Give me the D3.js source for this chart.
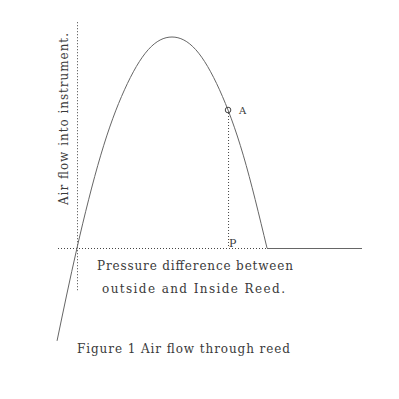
<!DOCTYPE html>
<html>
<head>
<meta charset="utf-8">
<script src="https://cdn.jsdelivr.net/npm/d3@7"></script>
<style>
  body { margin: 0; background: #fff; }
  text { font-family: "DejaVu Serif", serif; fill: #3a3a3a; }
</style>
</head>
<body>
<div id="chart"></div>
<script>
// Flow curve (pressure difference, air flow)
var pressure = [-0.21, 0, 0.25, 0.5, 0.75, 1.0, 1.25, 1.5, 1.75, 2.0];
var airFlow  = [-0.44, 0, 0.44, 0.75, 0.94, 1.0, 0.94, 0.75, 0.44, 0];

// Reed closed: flow stays at zero
var closedPressure = [2.0, 3.0];
var closedFlow     = [0, 0];

// Operating point A and its pressure P
var pointA = {p: 1.59, flow: 0.654};

// Extent of the dotted axes
var xAxisExtent = [-0.2, 2.0];
var yAxisExtent = [-0.2, 1.07];

var svgWidth = 399, svgHeight = 399;

var svg = d3.select("#chart")
  .append("svg")
  .attr("width", svgWidth)
  .attr("height", svgHeight);

var x = d3.scaleLinear().domain([0, 2]).range([77, 267]);
var y = d3.scaleLinear().domain([0, 1]).range([248, 37]);

// dotted axes
svg.append("line")
  .attr("x1", x(xAxisExtent[0])).attr("x2", x(xAxisExtent[1]))
  .attr("y1", y(0) + 0.5).attr("y2", y(0) + 0.5)
  .attr("stroke", "#444").attr("stroke-dasharray", "1,2");

svg.append("line")
  .attr("x1", x(0) + 0.5).attr("x2", x(0) + 0.5)
  .attr("y1", y(yAxisExtent[1])).attr("y2", y(yAxisExtent[0]))
  .attr("stroke", "#444").attr("stroke-dasharray", "1,2");

// flow curve
var curveData = pressure.map((p, i) => ({p: p, flow: airFlow[i]}));
var line = d3.line()
  .x(d => x(d.p))
  .y(d => y(d.flow))
  .curve(d3.curveNatural);

svg.append("path")
  .datum(curveData)
  .attr("d", line)
  .attr("fill", "none")
  .attr("stroke", "#666")
  .attr("stroke-width", 1);

var closedData = closedPressure.map((p, i) => ({p: p, flow: closedFlow[i]}));
svg.append("path")
  .datum(closedData)
  .attr("d", d3.line().x(d => x(d.p)).y(d => y(d.flow) + 0.5))
  .attr("fill", "none")
  .attr("stroke", "#666")
  .attr("stroke-width", 1);

// dotted drop from A to P
svg.append("line")
  .attr("x1", x(pointA.p) + 0.5).attr("x2", x(pointA.p) + 0.5)
  .attr("y1", y(pointA.flow) + 3).attr("y2", y(0))
  .attr("stroke", "#444").attr("stroke-dasharray", "1,2");

svg.append("circle")
  .attr("cx", x(pointA.p))
  .attr("cy", y(pointA.flow))
  .attr("r", 2.8)
  .attr("fill", "none")
  .attr("stroke", "#444");

svg.append("text")
  .attr("x", x(pointA.p) + 11)
  .attr("y", y(pointA.flow) + 4)
  .style("font-size", "10px")
  .text("A");

svg.append("text")
  .attr("x", x(pointA.p) + 1)
  .attr("y", y(0) - 1)
  .style("font-size", "11px")
  .text("P");

// axis labels
svg.append("text")
  .attr("transform", "translate(68, 205) rotate(-90)")
  .attr("textLength", 172)
  .attr("lengthAdjust", "spacing")
  .style("font-size", "12px")
  .text("Air flow into instrument.");

svg.append("text")
  .attr("x", 97).attr("y", 270)
  .attr("textLength", 196)
  .attr("lengthAdjust", "spacing")
  .style("font-size", "12px")
  .text("Pressure difference between");

svg.append("text")
  .attr("x", 102).attr("y", 293)
  .attr("textLength", 183)
  .attr("lengthAdjust", "spacing")
  .style("font-size", "12px")
  .text("outside and Inside Reed.");

svg.append("text")
  .attr("x", 77).attr("y", 353)
  .attr("textLength", 213)
  .attr("lengthAdjust", "spacing")
  .style("font-size", "12px")
  .text("Figure 1 Air flow through reed");
</script>
</body>
</html>
